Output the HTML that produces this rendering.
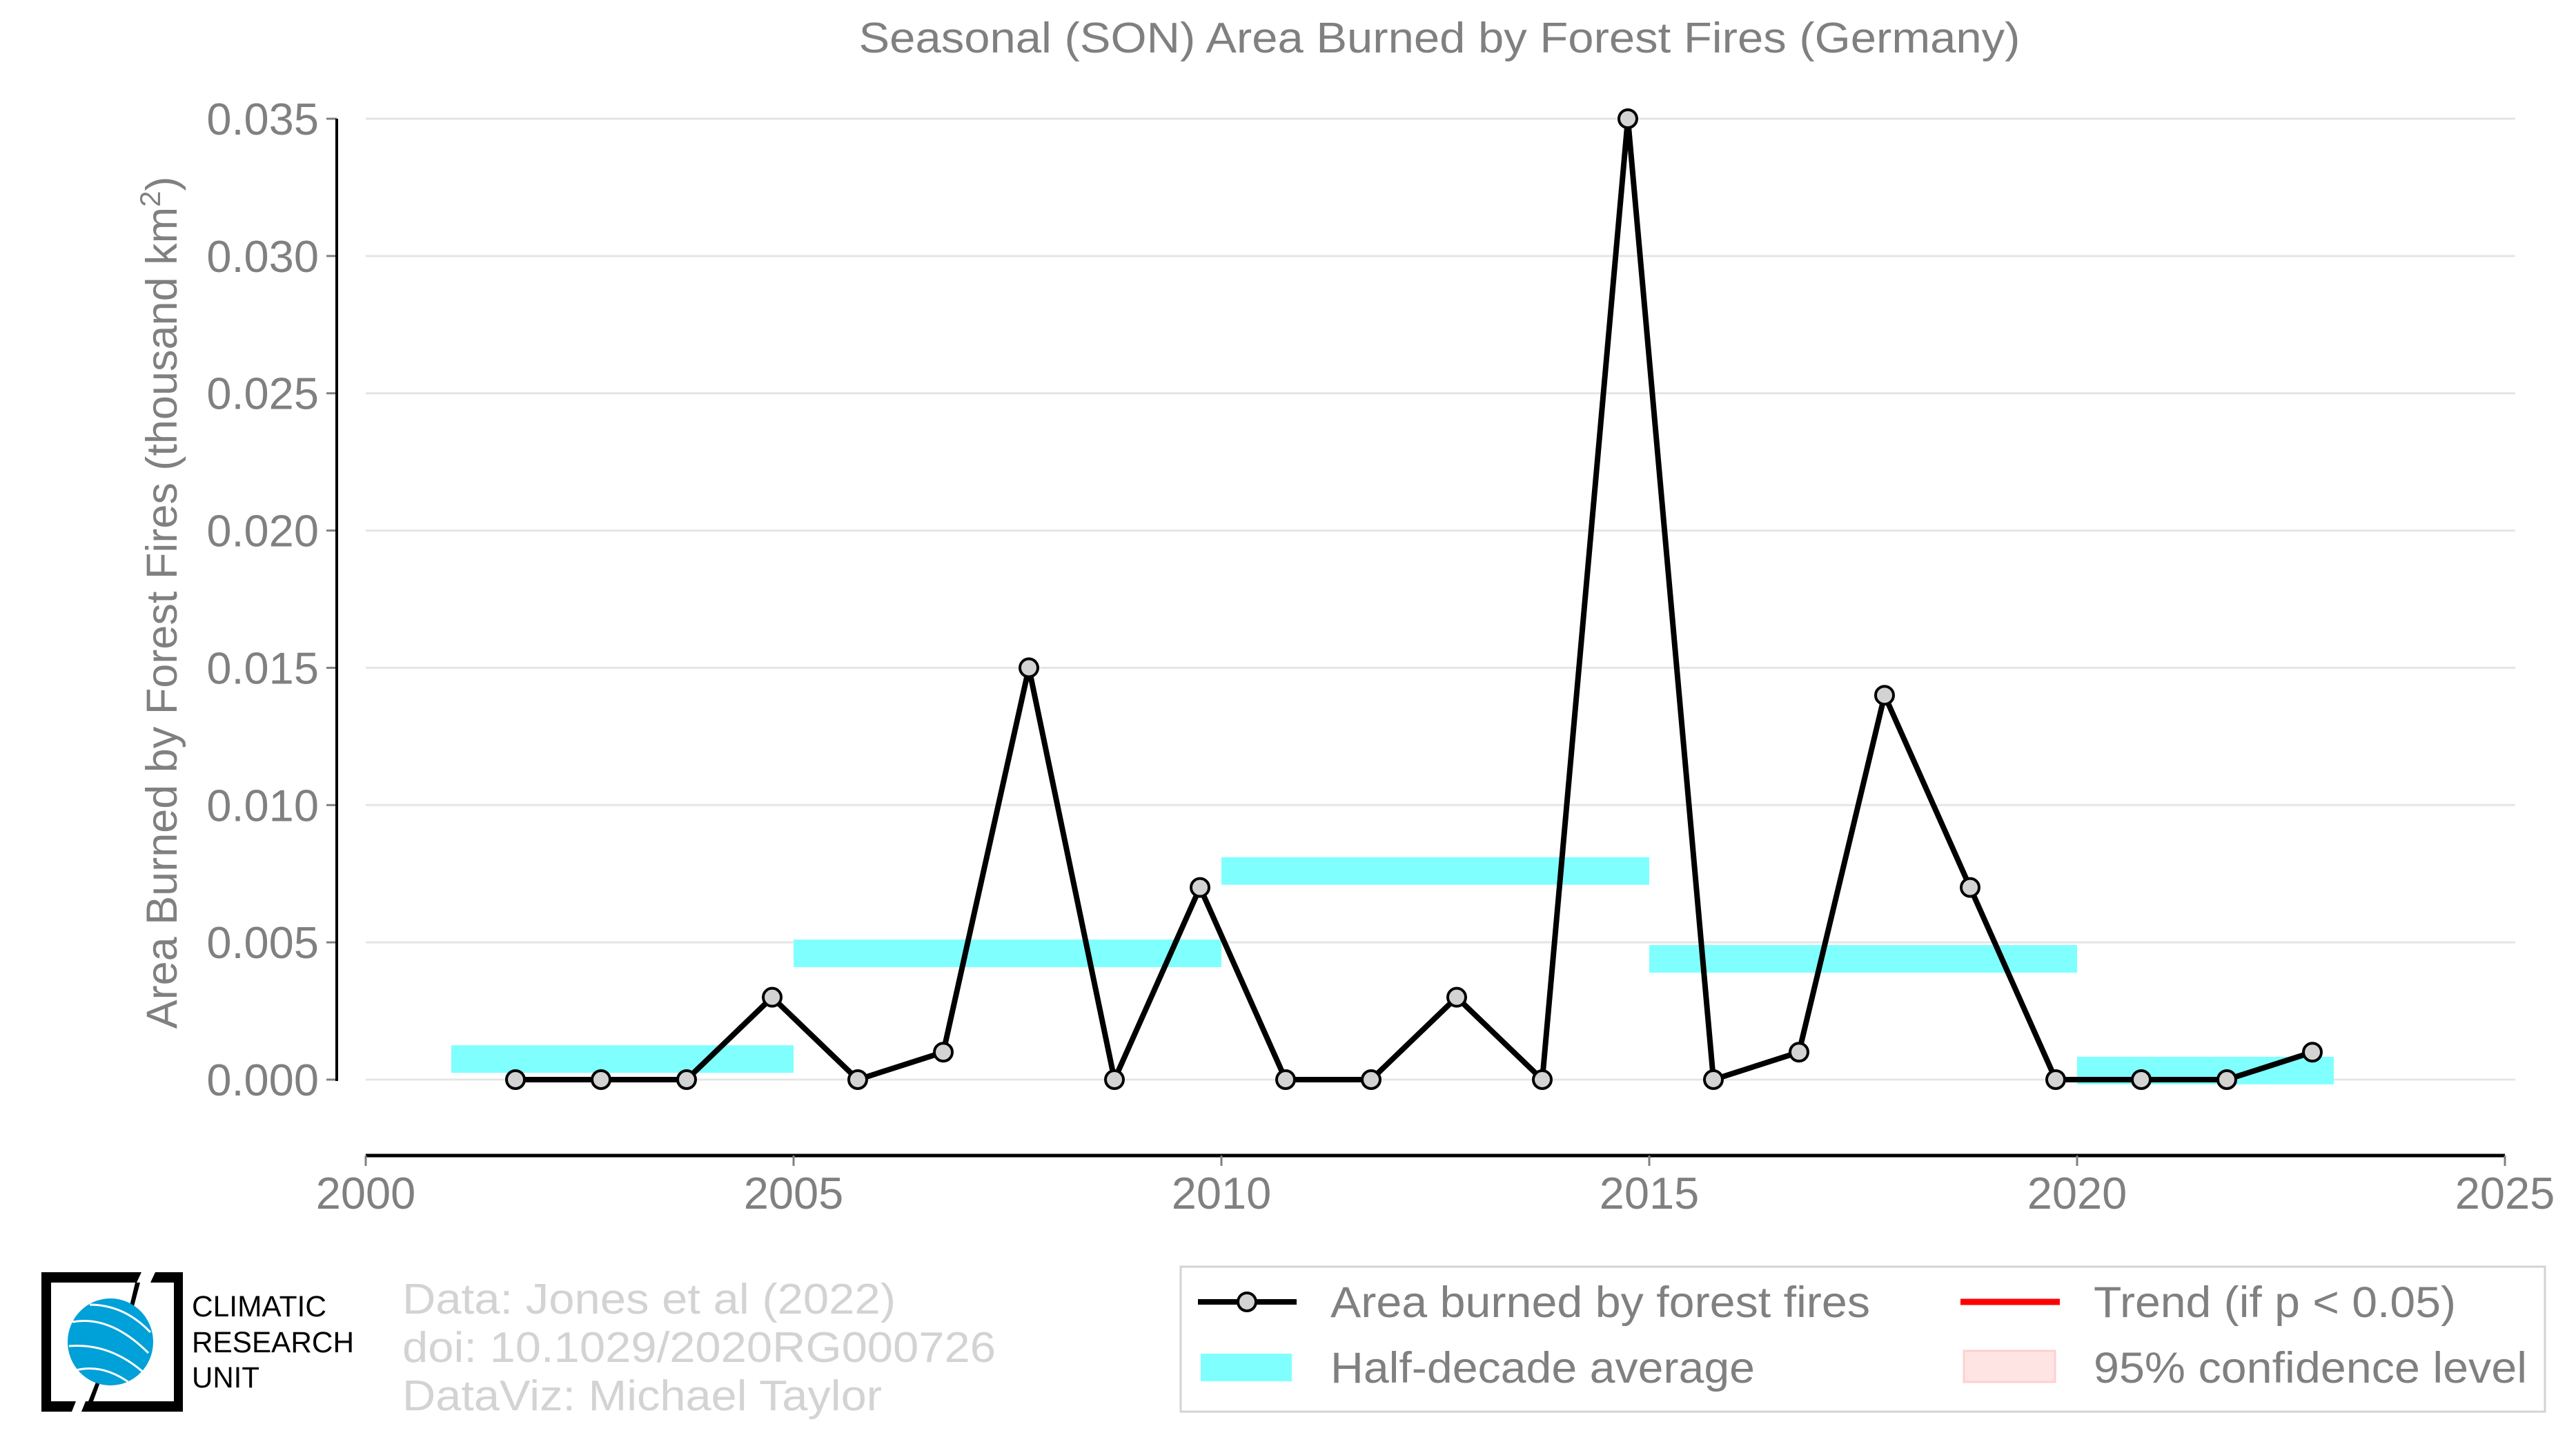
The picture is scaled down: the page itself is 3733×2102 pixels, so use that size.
<!DOCTYPE html>
<html><head><meta charset="utf-8"><style>
html,body{margin:0;padding:0;background:#fff;}
svg{display:block;font-family:"Liberation Sans",Arial,sans-serif;}
</style></head><body>
<svg id="chart" width="3733" height="2102" viewBox="0 0 3733 2102" xmlns="http://www.w3.org/2000/svg">
<text x="2086" y="76" text-anchor="middle" font-size="62" fill="#808080" textLength="1683" lengthAdjust="spacingAndGlyphs">Seasonal (SON) Area Burned by Forest Fires (Germany)</text>
<text transform="translate(256,873) rotate(-90)" text-anchor="middle" font-size="63" fill="#808080">Area Burned by Forest Fires (thousand km<tspan dy="-24" font-size="42">2</tspan><tspan dy="24">)</tspan></text>
<g id="grid"></g>
<g id="yaxis"></g>
<g id="xaxis"></g>
<g id="bars"></g>
<g id="series"></g>

<g>
<path d="M60,1843 H205 L198,1858 H74 V2030 H110 L104,2045 H60 Z" fill="#000"/>
<path d="M225,1843 H265 V2045 H118 L124,2030 H252 V1858 H218 Z" fill="#000"/>
<path d="M196,1858 L186,1900 L192,1900 L203,1858 Z" fill="#000"/>
<path d="M140,2000 L128,2030 L135,2030 L146,2000 Z" fill="#000"/>
<ellipse cx="160" cy="1944" rx="62" ry="63" fill="#00a0d8"/>
<path d="M105,1915 Q160,1905 215,1960 M100,1950 Q160,1945 210,1990 M110,1985 Q150,1975 190,2005 M130,1890 Q180,1890 218,1930" stroke="#fff" stroke-width="3" fill="none"/>
<text x="278" y="1907" font-size="43" fill="#000" textLength="195" lengthAdjust="spacingAndGlyphs">CLIMATIC</text>
<text x="278" y="1959" font-size="43" fill="#000" textLength="235" lengthAdjust="spacingAndGlyphs">RESEARCH</text>
<text x="278" y="2010" font-size="43" fill="#000" textLength="98" lengthAdjust="spacingAndGlyphs">UNIT</text>
</g>
<g font-size="62" fill="#d3d3d3">
<text x="583" y="1903" textLength="715" lengthAdjust="spacingAndGlyphs">Data: Jones et al (2022)</text>
<text x="583" y="1973" textLength="860" lengthAdjust="spacingAndGlyphs">doi: 10.1029/2020RG000726</text>
<text x="583" y="2043" textLength="695" lengthAdjust="spacingAndGlyphs">DataViz: Michael Taylor</text>
</g>
<g>
<rect x="1711" y="1835" width="1977" height="210" fill="#fff" stroke="#d3d3d3" stroke-width="3"/>
<g>
<line x1="1736" y1="1886" x2="1879" y2="1886" stroke="#000" stroke-width="8"/>
<circle cx="1807" cy="1886" r="13" fill="#d3d3d3" stroke="#000" stroke-width="4"/>
<text x="1928" y="1908" font-size="63" fill="#808080" textLength="782" lengthAdjust="spacingAndGlyphs">Area burned by forest fires</text>
</g>
<g>
<line x1="2841" y1="1886" x2="2985" y2="1886" stroke="#ff0000" stroke-width="9"/>
<text x="3034" y="1908" font-size="63" fill="#808080" textLength="525" lengthAdjust="spacingAndGlyphs">Trend (if p &lt; 0.05)</text>
</g>
<g>
<rect x="1740" y="1961" width="132" height="40" fill="#80ffff"/>
<text x="1928" y="2003" font-size="63" fill="#808080" textLength="615" lengthAdjust="spacingAndGlyphs">Half-decade average</text>
</g>
<g>
<rect x="2846" y="1957" width="132" height="45" fill="#ffe4e4" stroke="#ffcfcf" stroke-width="3"/>
<text x="3034" y="2003" font-size="63" fill="#808080" textLength="628" lengthAdjust="spacingAndGlyphs">95% confidence level</text>
</g>
</g>
</svg>
<script>
const years = [2001,2002,2003,2004,2005,2006,2007,2008,2009,2010,2011,2012,2013,2014,2015,2016,2017,2018,2019,2020,2021,2022];
const areaValues = [0,0,0,0.003,0,0.001,0.015,0,0.007,0,0,0.003,0,0.035,0,0.001,0.014,0.007,0,0,0,0.001];
const avgStarts = [2001,2005,2010,2015,2020];
const avgEnds = [2005,2010,2015,2020,2023];
const avgValues = [0.00075,0.0046,0.0076,0.0044,0.00033];
const yTicks = [0,0.005,0.010,0.015,0.020,0.025,0.030,0.035];
const yTickLabels = ["0.000","0.005","0.010","0.015","0.020","0.025","0.030","0.035"];
const xTicks = [2000,2005,2010,2015,2020,2025];
const xTickLabels = ["2000","2005","2010","2015","2020","2025"];

const NS = "http://www.w3.org/2000/svg";
const X = v => 530 + (v - 2000) * 124;
const Y = v => 1564 - v / 0.035 * 1392;
function mk(tag, attrs, parent){const e=document.createElementNS(NS,tag);for(const k in attrs)e.setAttribute(k,attrs[k]);parent.appendChild(e);return e;}
const grid=document.getElementById('grid'), ya=document.getElementById('yaxis'), xa=document.getElementById('xaxis');
const bars=document.getElementById('bars'), ser=document.getElementById('series');

yTicks.forEach((t,i)=>{
  const g=mk('line',{x1:530,x2:3645,y1:Y(t),y2:Y(t),stroke:'#e5e5e5','stroke-width':3},grid);
  
  
  const tk=mk('line',{x1:473,x2:488,y1:Y(t),y2:Y(t),stroke:'#808080','stroke-width':3},ya);
  
  
  const tx=mk('text',{x:462,y:Y(t)+23,'text-anchor':'end','font-size':65,fill:'#808080'},ya);
  
  
  tx.textContent=yTickLabels[i];
});
const yl=mk('line',{x1:488,x2:488,y1:Y(0.035),y2:Y(0)+2,stroke:'#000','stroke-width':4},ya);



const xl=mk('line',{x1:X(2000),x2:X(2025),y1:1674,y2:1674,stroke:'#000','stroke-width':5},xa);


xTicks.forEach((t,i)=>{
  const tk=mk('line',{x1:X(t),x2:X(t),y1:1674,y2:1689,stroke:'#808080','stroke-width':3},xa);
  
  
  const tx=mk('text',{x:X(t),y:1751,'text-anchor':'middle','font-size':65,fill:'#808080'},xa);
  
  
  tx.textContent=xTickLabels[i];
});

avgValues.forEach((v,i)=>{
  const r=mk('rect',{x:X(avgStarts[i]),y:Y(v)-20,width:X(avgEnds[i])-X(avgStarts[i]),height:40,fill:'#80ffff'},bars);
  
  
});

const pts=years.map((y,i)=>[X(y+0.75),Y(areaValues[i])]);
const pl=mk('polyline',{points:pts.map(p=>p.join(',')).join(' '),fill:'none',stroke:'#000','stroke-width':8,'stroke-linejoin':'miter'},ser);


pts.forEach(p=>{
  const c=mk('circle',{cx:p[0],cy:p[1],r:13,fill:'#d3d3d3',stroke:'#000','stroke-width':4},ser);
  
  
});
</script>
</body></html>
